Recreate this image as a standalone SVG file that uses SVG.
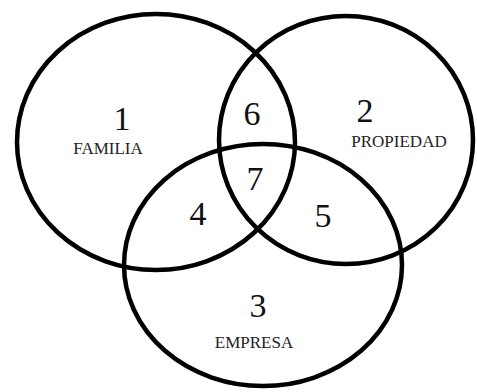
<svg xmlns="http://www.w3.org/2000/svg" width="477" height="392" viewBox="0 0 477 392">
<style>
.c{fill:none;stroke:#000;stroke-width:4.5}
.n{font-family:"Liberation Serif","Times New Roman",serif;font-size:34px;fill:#111;text-anchor:middle}
.l{font-family:"Liberation Serif","Times New Roman",serif;font-size:17px;fill:#222;text-anchor:middle}
</style>
<rect width="477" height="392" fill="#fff"/>
<g id="familia"><ellipse class="c" cx="156" cy="142" rx="139" ry="128"/></g>
<g id="propiedad"><ellipse class="c" cx="346" cy="140" rx="127" ry="124"/></g>
<g id="empresa"><ellipse class="c" cx="263" cy="265" rx="139" ry="121"/></g>
<g id="labels">
<text class="n" x="122" y="130">1</text>
<text class="l" x="108" y="154">FAMILIA</text>
<text class="n" x="365" y="122">2</text>
<text class="l" x="399" y="147">PROPIEDAD</text>
<text class="n" x="258" y="317">3</text>
<text class="l" x="254" y="348">EMPRESA</text>
<text class="n" x="198" y="225">4</text>
<text class="n" x="323" y="227">5</text>
<text class="n" x="252" y="125">6</text>
<text class="n" x="255" y="190">7</text>
</g>
</svg>
